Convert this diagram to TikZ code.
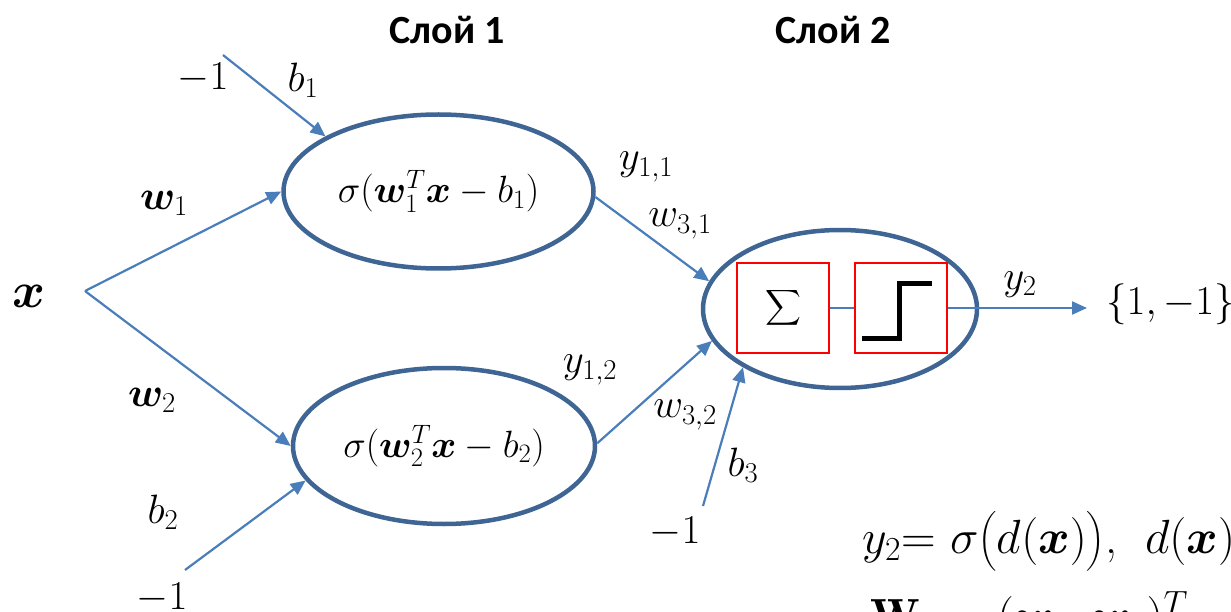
\RequirePackage{fix-cm}
\documentclass[tikz,border=0pt]{standalone}
\usepackage{amsmath}
\usepackage{exscale}
\usepackage{bm}
\usepackage{fontspec}
\newfontfamily\headfont{Carlito}
\usetikzlibrary{shapes.geometric,arrows.meta}
\definecolor{ellcol}{RGB}{63,101,148}
\definecolor{arrcol}{RGB}{74,126,187}
\begin{document}
\begin{tikzpicture}[x=1pt,y=-1pt,
  lbl/.style={font=\fontsize{41}{45}\selectfont, inner sep=0pt},
  head/.style={font=\headfont\bfseries\fontsize{40}{44}\selectfont, inner sep=0pt, anchor=base},
  neuron/.style={ellipse, draw=ellcol, line width=4.5pt, inner sep=0pt, font=\fontsize{38}{42}\selectfont},
  conn/.style={draw=arrcol, line width=2.2pt, -{Triangle[length=15pt,width=13pt]}},
  plainconn/.style={draw=arrcol, line width=2.2pt},
  redbox/.style={draw=red, line width=2pt, minimum width=92pt, minimum height=90pt, inner sep=0pt},
  formula/.style={font=\fontsize{48}{52}\selectfont, inner sep=0pt, anchor=base west}]
\useasboundingbox (0,0) rectangle (1231,612);
\clip (0,0) rectangle (1231,612);

% headings
\node[head] (h1) at (447,44) {Слой 1};
\node[head] (h2) at (833,44) {Слой 2};

% neurons
\node[neuron, minimum width=310pt, minimum height=154pt] (e1) at (438.5,191.5) {$\sigma(\bm{w}_1^T\bm{x}-b_1)$};
\node[neuron, minimum width=302pt, minimum height=156pt] (e2) at (444,446) {$\sigma(\bm{w}_2^T\bm{x}-b_2)$};
\node[neuron, minimum width=274pt, minimum height=158pt] (e3) at (840,309) {};
\node[redbox, font=\fontsize{40}{44}\selectfont] (sum) at (783,308) {$\displaystyle\sum$};
\node[redbox] (stp) at (900.5,308) {};
\draw[line width=5pt, black, shift={(stp.center)}] (-38.5,30) -- (-1.5,30) -- (-1.5,-24) -- (31.5,-24);

% input
\node[font=\fontsize{50}{54}\selectfont, inner sep=0pt] (xl) at (29,296) {$\bm{x}$};
\coordinate (br) at (85,291);
\draw[conn] (br) -- (e1.180);
\draw[conn] (br) -- (e2.180);
\node[lbl] (w1) at (164,203) {$\bm{w}_1$};
\node[lbl] (w2) at (152,400) {$\bm{w}_2$};

% biases layer 1
\coordinate (b1s) at (223,55);
\draw[conn] (b1s) -- (e1.154);
\node[lbl] (m1) at (203,78) {$-1$};
\node[lbl] (b1) at (303,80) {$b_1$};
\coordinate (b2s) at (185,570);
\draw[conn] (b2s) -- (e2.194);
\node[lbl] (b2) at (163,512) {$b_2$};
\node[lbl] (m2) at (162,598) {$-1$};

% layer 2 inputs
\draw[conn] (e1.-2) -- (e3.168);
\draw[conn] (e2.1) -- (e3.194);
\node[lbl] (y11) at (646,167) {$y_{1,1}$};
\node[lbl] (w31) at (680,224) {$w_{3,1}$};
\node[lbl] (y12) at (590,370) {$y_{1,2}$};
\node[lbl] (w32) at (685,415) {$w_{3,2}$};
\coordinate (b3s) at (703,506);
\draw[conn] (b3s) -- (e3.211);
\node[lbl] (b3) at (743,465) {$b_3$};
\node[lbl] (m3) at (675,532) {$-1$};

% inside and output
\draw[plainconn] (sum.east) -- (stp.west);
\coordinate (out) at (1087,308);
\draw[conn] (stp.east) -- (out);
\node[lbl] (y2) at (1020,285) {$y_2$};
\node[lbl, anchor=west] (res) at (1106,304) {$\{1,-1\}$};

% formulas
\node[formula] (f1) at (862,553) {$y_2$= $\sigma\bigl(d(\bm{x})\bigr)$,\; $d(\bm{x})$};
\node[formula] (f2) at (870,632) {$\mathbf{W}_{1}=(\bm{w}_1,\bm{w}_2)^T$};
\end{tikzpicture}
\end{document}
